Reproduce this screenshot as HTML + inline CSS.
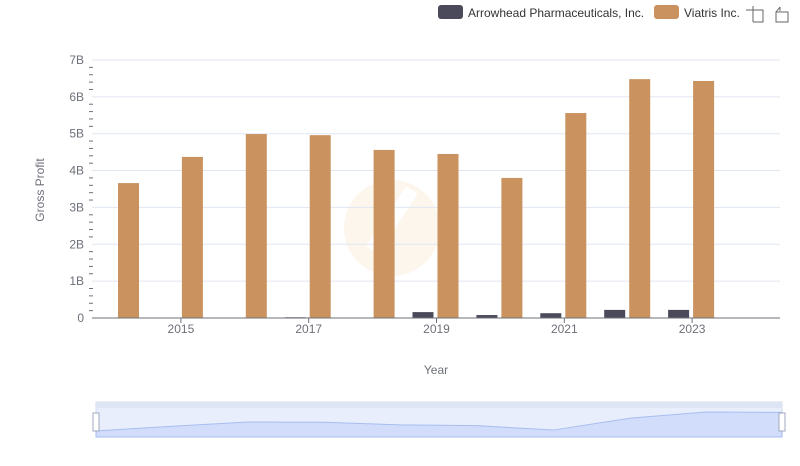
<!DOCTYPE html>
<html><head><meta charset="utf-8"><style>
body{margin:0;background:#fff;font-family:"Liberation Sans",sans-serif}
svg text{font-family:"Liberation Sans",sans-serif}
</style></head><body>
<svg id="c" width="800" height="461" xmlns="http://www.w3.org/2000/svg">
<g>
<rect x="438" y="5" width="25" height="14" rx="3" fill="#4a4a5a"/>
<text x="468" y="17" font-size="12" fill="#333">Arrowhead Pharmaceuticals, Inc.</text>
<rect x="654" y="5" width="25" height="14" rx="3" fill="#c9925e"/>
<text x="684" y="17" font-size="12" fill="#333">Viatris Inc.</text>
<g stroke="#666" fill="none"><path d="M749 10h14v12h-10M753 6v16M746 10h3"/></g>
<g stroke="#666" fill="none"><path d="M776 12h12v10h-12zM776 12l4-5M780 7v4"/></g>
</g>
<text x="44" y="190" font-size="12" fill="#6e7079" transform="rotate(-90 44 190)" text-anchor="middle">Gross Profit</text>
<text x="436" y="374" font-size="12" fill="#6e7079" text-anchor="middle">Year</text>
<g opacity="0.12"><circle cx="392" cy="228" r="48" fill="#e8b870"/><path d="M372 250l40-60" stroke="#fff" stroke-width="14"/></g>
<g id="grid"></g><g id="bars"></g><g id="axes"></g>
<g>
<rect x="96" y="402" width="686" height="35" fill="#e8eefc" stroke="#d2dbee"/>
<rect x="96" y="402" width="686" height="6" fill="#dde4f3"/>
<path id="sl" fill="#d1ddfa" stroke="#a8bdf0"/>
<rect x="93" y="413" width="6" height="18" fill="#fff" stroke="#a0a8c0"/>
<rect x="779" y="413" width="6" height="18" fill="#fff" stroke="#a0a8c0"/>
</g>
</svg>
<script>
const years=[2014,2015,2016,2017,2018,2019,2020,2021,2022,2023];
const arrowhead=[0.003,0.004,0.01,0.02,0.01,0.16,0.08,0.13,0.22,0.22];
const viatris=[3.66,4.37,4.99,4.96,4.56,4.45,3.80,5.56,6.48,6.43];
const yTicks=[0,1,2,3,4,5,6,7];
const yLabels=["0","1B","2B","3B","4B","5B","6B","7B"];
const xLabels=[2015,2017,2019,2021,2023];
const NS="http://www.w3.org/2000/svg";
const y=v=>318-v*36.86, x=yr=>117+(yr-2014)*63.9;
function mk(t,a,p){const e=document.createElementNS(NS,t);for(const k in a)e.setAttribute(k,a[k]);p.appendChild(e);return e;}
const g=document.getElementById('grid'),b=document.getElementById('bars'),ax=document.getElementById('axes');
yTicks.forEach((v,i)=>{
 if(v>0){const l=mk('line',{x1:92,x2:780,y1:y(v),y2:y(v),stroke:'#e0e6f1'},g);
 
 }
 const t=mk('text',{x:84,y:y(v)+4,'font-size':12,fill:'#6e7079','text-anchor':'end'},ax);t.textContent=yLabels[i];
 
 
 if(v<7)for(let k=1;k<5;k++){const m=mk('line',{x1:89,x2:93,y1:y(v+k*0.2),y2:y(v+k*0.2),stroke:'#6e7079'},ax);
 
 }
});
years.forEach((yr,i)=>{
 const c=x(yr);
 const r1=mk('rect',{x:c-24,y:y(arrowhead[i]),width:21,height:Math.max(318-y(arrowhead[i]),0.5),fill:'#4a4a5a'},b);
 
 
 const r2=mk('rect',{x:c+1,y:y(viatris[i]),width:21,height:318-y(viatris[i]),fill:'#c9925e'},b);
 
 
});
const xl=mk('line',{x1:92,x2:780,y1:318,y2:318,stroke:'#6e7079'},ax);


xLabels.forEach(yr=>{
 mk('line',{x1:x(yr),x2:x(yr),y1:318,y2:323,stroke:'#6e7079'},ax);
 const t=mk('text',{x:x(yr),y:333,'font-size':12,fill:'#6e7079','text-anchor':'middle'},ax);t.textContent=yr;
 
 
});
const mn=Math.min(...viatris),mx=Math.max(...viatris);
const sx=i=>96+i*686/(years.length-1), sy=v=>431-(v-mn)/(mx-mn)*19;
let d='M96 437';viatris.forEach((v,i)=>{d+=' L'+sx(i)+' '+sy(v)});d+=' L782 437Z';
document.getElementById('sl').setAttribute('d',d);
</script>
</body></html>
